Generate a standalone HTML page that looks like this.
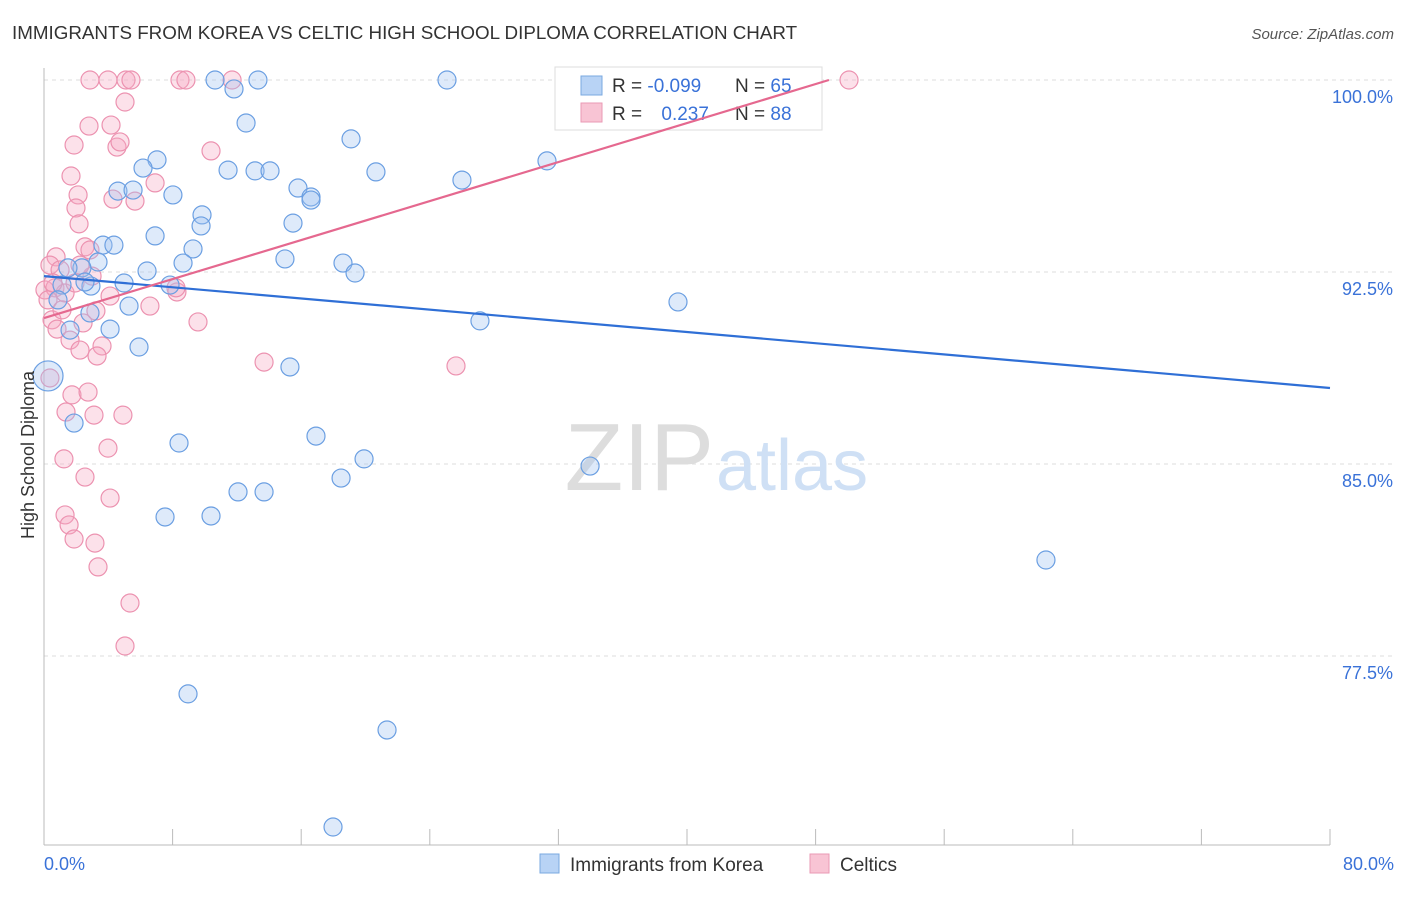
<!DOCTYPE html>
<html><head><meta charset="utf-8"><style>
body{margin:0;background:#fff;font-family:"Liberation Sans",sans-serif;}
svg text{font-family:"Liberation Sans",sans-serif;}
</style></head><body>
<svg width="1406" height="892" viewBox="0 0 1406 892">
<text x="12" y="39" font-size="18.8" fill="#333">IMMIGRANTS FROM KOREA VS CELTIC HIGH SCHOOL DIPLOMA CORRELATION CHART</text>
<text x="1394" y="39" font-size="15" fill="#555" font-style="italic" text-anchor="end">Source: ZipAtlas.com</text>
<g id="grid"></g>
<text x="714" y="490" font-size="96" fill="#ddd" text-anchor="end" font-family="Liberation Serif">ZIP</text>
<text x="716" y="490" font-size="72" fill="#cfe0f5">atlas</text>
<g>
<rect x="555" y="67" width="267" height="63" fill="#fff" stroke="#ddd"/>
<rect x="581" y="76" width="21" height="19" fill="#b8d3f5" stroke="#7aa8e0"/>
<rect x="581" y="103" width="21" height="19" fill="#f8c4d4" stroke="#ea9ab4"/>
<text x="612" y="92" font-size="19" fill="#333">R = <tspan fill="#3a72d8">-0.099</tspan></text>
<text x="735" y="92" font-size="19" fill="#333">N = <tspan fill="#3a72d8">65</tspan></text>
<text x="612" y="120" font-size="19" fill="#333">R = <tspan fill="#3a72d8" dx="14">0.237</tspan></text>
<text x="735" y="120" font-size="19" fill="#333">N = <tspan fill="#3a72d8">88</tspan></text>
</g>
<g id="marks"></g>
<text x="34" y="455" font-size="18" fill="#333" text-anchor="middle" transform="rotate(-90 34 455)">High School Diploma</text>
<g>
<rect x="540" y="854" width="19" height="19" fill="#b8d3f5" stroke="#7aa8e0"/>
<text x="570" y="871" font-size="19" fill="#333">Immigrants from Korea</text>
<rect x="810" y="854" width="19" height="19" fill="#f8c4d4" stroke="#ea9ab4"/>
<text x="840" y="871" font-size="19" fill="#333">Celtics</text>
</g>
</svg>
<script>
const blueX=[10.64,13.31,25.07,11.82,12.57,19.10,7.03,6.16,11.45,13.13,14.06,20.65,31.29,26.00,4.60,5.54,8.02,15.80,16.61,16.61,9.83,9.77,15.49,6.91,3.67,4.35,9.27,14.99,3.36,8.65,18.60,6.41,19.35,2.36,4.98,2.92,7.84,39.44,5.29,2.86,27.12,4.11,5.91,15.30,0.25,1.87,8.40,16.92,19.91,33.97,18.48,12.07,13.69,7.53,10.39,62.33,8.96,21.34,17.98,1.49,1.12,2.55,0.87,1.62];
const blueY=[100,100,100,99.65,98.32,97.70,96.88,96.56,96.48,96.45,96.45,96.41,96.84,96.09,95.66,95.70,95.51,95.78,95.43,95.31,94.73,94.30,94.41,93.91,93.55,93.55,93.40,93.01,92.89,92.85,92.85,92.54,92.46,92.66,92.07,91.95,91.99,91.33,91.17,90.90,90.59,90.27,89.57,88.79,88.44,86.60,85.82,86.09,85.20,84.92,84.45,83.91,83.91,82.93,82.97,81.25,76.02,74.61,70.82,92.66,91.99,92.11,91.41,90.23];
const pinkX=[2.86,3.98,5.10,5.41,8.46,8.83,11.70,50.08,5.04,2.80,4.17,1.87,4.54,4.73,10.39,1.68,6.91,2.12,4.29,5.66,1.99,2.18,2.55,0.75,2.86,0.37,1.00,2.99,0.06,0.68,1.31,1.93,4.11,6.59,8.27,8.21,9.58,0.50,0.81,2.43,3.23,1.62,2.24,3.61,3.30,13.69,25.63,0.37,1.74,2.74,4.91,3.11,1.37,3.98,1.24,2.55,4.11,1.31,1.56,3.17,1.87,3.36,5.35,5.04,0.25,1.12,2.24,0.56];
const pinkY=[100,100,100,100,100,100,100,100,99.14,98.20,98.24,97.46,97.38,97.58,97.23,96.25,95.98,95.51,95.35,95.27,95.00,94.38,93.48,93.09,93.36,92.77,92.58,92.34,91.80,91.88,91.68,92.07,91.56,91.17,91.72,91.88,90.55,90.63,90.27,90.51,90.98,89.84,89.45,89.61,89.22,88.98,88.83,88.36,87.70,87.81,86.91,86.91,87.03,85.62,85.20,84.49,83.67,83.01,82.62,81.91,82.07,80.98,79.57,77.89,91.41,91.02,92.77,92.07];
const blueTrend=[92.34,87.97];
const pinkTrend=[90.70,100.0,48.83];
const yTicks=[100,92.5,85,77.5];
const yTickLabels=["100.0%","92.5%","85.0%","77.5%"];
const NS="http://www.w3.org/2000/svg";
const X=v=>44+v/80*1286;
const Y=v=>80+(100-v)/7.5*192;
function mk(tag,at,parent){const e=document.createElementNS(NS,tag);for(const k in at)e.setAttribute(k,at[k]);parent.appendChild(e);return e;}
const grid=document.getElementById('grid'),marks=document.getElementById('marks');
yTicks.forEach((t,i)=>{
 const l=mk('line',{x1:44,x2:1394,y1:Y(t),y2:Y(t),stroke:'#ddd','stroke-dasharray':'4,4'},grid);
 
 
 const tx=mk('text',{x:1393,y:Y(t)+23,'font-size':18,fill:'#3a72d8','text-anchor':'end'},grid);
 tx.textContent=yTickLabels[i];
 
 
});
const ax=mk('line',{x1:44,x2:44,y1:68,y2:845,stroke:'#bbb'},grid);


const bx=mk('line',{x1:44,x2:1330,y1:845,y2:845,stroke:'#bbb'},grid);


for(let i=0;i<=10;i++){const t=mk('line',{x1:X(i*8),x2:X(i*8),y1:829,y2:845,stroke:'#bbb'},grid);
 
 }
const xl=mk('text',{x:44,y:870,'font-size':18,fill:'#3a72d8'},grid);xl.textContent='0.0%';


const xr=mk('text',{x:1394,y:870,'font-size':18,fill:'#3a72d8','text-anchor':'end'},grid);xr.textContent='80.0%';


pinkX.forEach((x,i)=>{const c=mk('circle',{cx:X(x),cy:Y(pinkY[i]),r:9,fill:'rgba(246,168,194,0.35)',stroke:'#ec92b0','stroke-width':1.2},marks);
 
 });
blueX.forEach((x,i)=>{const c=mk('circle',{cx:X(x),cy:Y(blueY[i]),r:(i==44?15:9),fill:'rgba(160,196,240,0.35)',stroke:'#6b9fe2','stroke-width':1.2},marks);
 
 });
const bl=mk('line',{x1:X(0),y1:Y(blueTrend[0]),x2:X(80),y2:Y(blueTrend[1]),stroke:'#2f6fd6','stroke-width':2.2},marks);


const pl=mk('line',{x1:X(0),y1:Y(pinkTrend[0]),x2:X(pinkTrend[2]),y2:Y(pinkTrend[1]),stroke:'#e5688f','stroke-width':2.2},marks);


</script>
</body></html>
